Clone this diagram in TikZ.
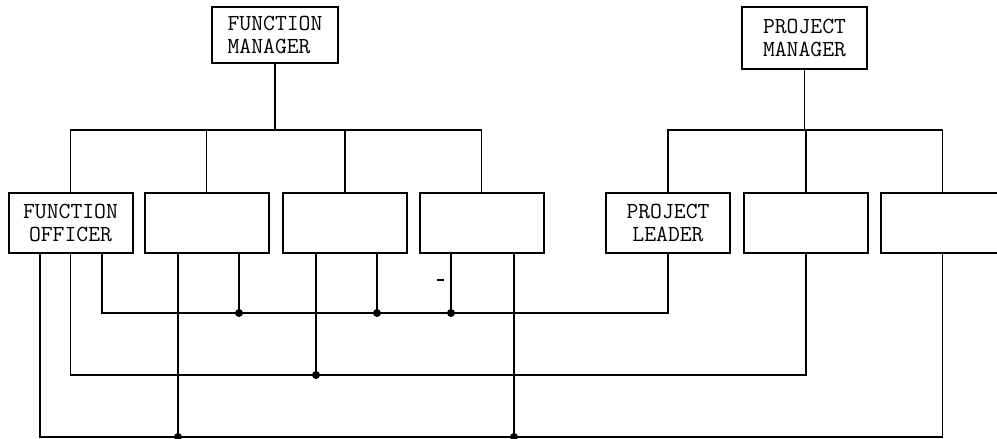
\documentclass[tikz,border=0pt]{standalone}
\begin{document}
\begin{tikzpicture}[x=1pt,y=-1pt,
  box/.style={draw, line width=2pt, minimum width=124pt, minimum height=60pt, inner sep=0pt, align=center, font=\fontsize{23}{23}\selectfont\ttfamily},
  wire/.style={line width=1.7pt},
  jdot/.style={circle, fill, inner sep=0pt, minimum size=8pt}]
\useasboundingbox (0,0) rectangle (997,439);
\clip (0,0) rectangle (997,439);
% managers
\node[box, minimum width=126pt, minimum height=56pt, align=left] (fm) at (275,35) {FUNCTION\\MANAGER};
\node[box, minimum width=125pt, minimum height=62pt] (pm) at (804.5,38) {PROJECT\\MANAGER};
% row of boxes
\node[box] (f1) at (70.5,223) {FUNCTION\\OFFICER};
\node[box] (f2) at (206.5,223) {};
\node[box] (f3) at (345,223) {};
\node[box] (f4) at (481.5,223) {};
\node[box] (p1) at (668,223) {PROJECT\\LEADER};
\node[box] (p2) at (806,223) {};
\node[box] (p3) at (942.5,223) {};
% function manager bus
\coordinate (fbus) at (275,130);
\draw[wire] (fm.south) -- (fbus);
\draw[wire] (f1.north) -- (f1.north |- fbus) -- (f4.north |- fbus) -- (f4.north);
\draw[wire] (f2.north) -- (f2.north |- fbus);
\draw[wire] (f3.north) -- (f3.north |- fbus);
% project manager bus
\coordinate (pbus) at (804.5,130);
\draw[wire] (pm.south) -- (pbus);
\draw[wire] (p1.north) -- (p1.north |- pbus) -- (p3.north |- pbus) -- (p3.north);
\draw[wire] (p2.north) -- (p2.north |- pbus);
% line A
\coordinate (aL) at (102,313);
\coordinate (a1) at (239,313);
\coordinate (a2) at (377,313);
\coordinate (a3) at (451,313);
\draw[wire] (f1.south -| aL) -- (aL) -- (p1.south |- aL) -- (p1.south);
\draw[wire] (f2.south -| a1) -- (a1);
\draw[wire] (f3.south -| a2) -- (a2);
\draw[wire] (f4.south -| a3) -- (a3);
\node[jdot] (ja1) at (a1) {};
\node[jdot] (ja2) at (a2) {};
\node[jdot] (ja3) at (a3) {};
\draw[line width=1.2pt] (437,280) -- (444,280);
% line B
\coordinate (bJ) at (316,375);
\draw[wire] (f1.south) -- (f1.south |- bJ) -- (p2.south |- bJ) -- (p2.south);
\draw[wire] (f3.south -| bJ) -- (bJ);
\node[jdot] (jb) at (bJ) {};
% line C
\coordinate (cL) at (40,437);
\coordinate (c1) at (178,437);
\coordinate (c2) at (514,437);
\draw[wire] (f1.south -| cL) -- (cL) -- (p3.south |- cL) -- (p3.south);
\draw[wire] (f2.south -| c1) -- (c1);
\draw[wire] (f4.south -| c2) -- (c2);
\node[jdot] (jc1) at (c1) {};
\node[jdot] (jc2) at (c2) {};
\end{tikzpicture}
\end{document}
